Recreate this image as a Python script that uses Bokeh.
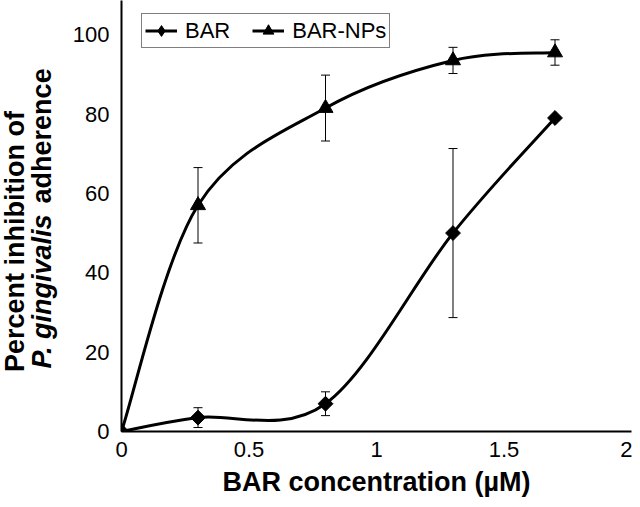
import numpy as np
from bokeh.plotting import figure
from bokeh.layouts import row
from bokeh.models import (ColumnDataSource, Whisker, TeeHead, Legend, LegendItem,
                          FixedTicker, Range1d)
from bokeh.core.properties import value
from bokeh.embed import file_html
from bokeh.resources import INLINE

# ---- data ----
conc = [0, 0.3, 0.8, 1.3, 1.7]
bar_vals = [0, 3.5, 7.0, 50.0, 79.0]
bar_err = [0, 2.5, 3.0, 21.3, 0]
np_vals = [0, 57.0, 81.5, 93.5, 95.5]
np_err = [0, 9.5, 8.3, 3.3, 3.2]
x_ticks = [0, 0.5, 1, 1.5, 2]
x_tick_labels = ["0", "0.5", "1", "1.5", "2"]
y_ticks = [0, 20, 40, 60, 80, 100]
series_names = ["BAR", "BAR-NPs"]
x_title = "BAR concentration (µM)"
y_title_1 = "Percent inhibition of"
y_title_2a = "P. gingivalis"
y_title_2b = "adherence"

FONT = "Liberation Sans"
H = 499
LAB_W = 68
BOTTOM = 68          # space below the plotting frame
FRAME_H = H - BOTTOM


def bezier_source(xs, ys):
    P = np.column_stack([xs, ys]).astype(float)
    prev = np.vstack([P[:1], P[:-1]])
    nxt = np.vstack([P[1:], P[-1:]])
    tan = (nxt - prev) / 6.0
    c0 = P[:-1] + tan[:-1]
    c1 = P[1:] - tan[1:]
    return ColumnDataSource(dict(x0=P[:-1, 0], y0=P[:-1, 1], x1=P[1:, 0], y1=P[1:, 1],
                                 cx0=c0[:, 0], cy0=c0[:, 1], cx1=c1[:, 0], cy1=c1[:, 1]))


# ---------- main plot ----------
p = figure(width=632 - LAB_W, height=H, output_backend="svg", toolbar_location=None,
           x_range=Range1d(0, 2), y_range=Range1d(0, 108.6),
           min_border_left=121 - LAB_W, min_border_right=1, min_border_top=0,
           min_border_bottom=BOTTOM)
p.outline_line_color = None
p.xgrid.visible = False
p.ygrid.visible = False

for ax in (p.xaxis[0], p.yaxis[0]):
    ax.axis_line_width = 2
    ax.axis_line_color = "black"
    ax.major_tick_line_color = None
    ax.minor_tick_line_color = None
    ax.major_tick_in = 0
    ax.major_tick_out = 0
    ax.major_label_text_font = FONT
    ax.major_label_text_font_size = "22px"
    ax.major_label_text_color = "black"
    ax.major_label_standoff = 12
p.xaxis.major_label_standoff = 10

p.xaxis.ticker = FixedTicker(ticks=x_ticks)
p.xaxis.major_label_overrides = {t: l for t, l in zip(x_ticks, x_tick_labels)}
p.yaxis.ticker = FixedTicker(ticks=y_ticks)

p.xaxis.axis_label = x_title
p.xaxis.axis_label_text_font = FONT
p.xaxis.axis_label_text_font_style = "bold"
p.xaxis.axis_label_text_font_size = "27px"
p.xaxis.axis_label_text_color = "black"
p.xaxis.axis_label_standoff = 7

# error bars
for vals, errs in ((bar_vals, bar_err), (np_vals, np_err)):
    v = np.array(vals, dtype=float)
    e = np.array(errs, dtype=float)
    src = ColumnDataSource(dict(x=conc, upper=v + e, lower=v - e))
    w = Whisker(source=src, base="x", upper="upper", lower="lower",
                line_color="black", line_width=1,
                upper_head=TeeHead(size=9, line_color="black", line_width=1),
                lower_head=TeeHead(size=9, line_color="black", line_width=1))
    p.add_layout(w)

# smoothed curves
bar_curve = p.bezier(x0="x0", y0="y0", x1="x1", y1="y1", cx0="cx0", cy0="cy0",
                     cx1="cx1", cy1="cy1", source=bezier_source(conc, bar_vals),
                     line_color="black", line_width=3)
np_curve = p.bezier(x0="x0", y0="y0", x1="x1", y1="y1", cx0="cx0", cy0="cy0",
                    cx1="cx1", cy1="cy1", source=bezier_source(conc, np_vals),
                    line_color="black", line_width=3)

# diamond (hidden under the rotated squares) used for the BAR legend symbol
bar_leg = p.scatter(conc, bar_vals, marker="diamond", size=11, color="black")
bar_pts = p.scatter(conc, bar_vals, marker="square", size=10.5, angle=np.pi / 4,
                    color="black")
np_pts = p.scatter(conc, np_vals, marker="triangle", size=15, color="black")

legend = Legend(items=[LegendItem(label=series_names[0], renderers=[bar_curve, bar_leg]),
                       LegendItem(label=series_names[1], renderers=[np_curve, np_pts])],
                location=(20, FRAME_H - 48), orientation="horizontal",
                label_text_font=FONT, label_text_font_size="22px",
                label_text_color="black",
                glyph_width=32, glyph_height=27, label_standoff=8, spacing=22,
                padding=3, margin=0, border_line_color="black", border_line_width=1,
                background_fill_alpha=1.0)
p.add_layout(legend)

# ---------- y-axis title panel (frame aligned with the main plot) ----------
lab = figure(width=LAB_W, height=H, output_backend="svg", toolbar_location=None,
             x_range=Range1d(0, LAB_W), y_range=Range1d(0, FRAME_H),
             x_axis_location=None, y_axis_location=None,
             min_border_left=0, min_border_right=0, min_border_top=0,
             min_border_bottom=BOTTOM)
lab.outline_line_color = None
lab.xgrid.visible = False
lab.ygrid.visible = False

fs = 27
adv_2a = 5.836 + 0.278  # em widths of "P. gingivalis " (Arial-metric bold)
y2_start = FRAME_H - 368
lab.text(x=[14], y=[FRAME_H - 241], text=[y_title_1], angle=np.pi / 2,
         text_font=value(FONT), text_font_style="bold", text_font_size="27px",
         text_align="center", text_baseline="alphabetic", text_color="black")
lab.text(x=[41], y=[y2_start], text=[y_title_2a], angle=np.pi / 2,
         text_font=value(FONT), text_font_style="bold italic", text_font_size="27px",
         text_align="left", text_baseline="alphabetic", text_color="black")
lab.text(x=[41], y=[y2_start + adv_2a * fs], text=[y_title_2b], angle=np.pi / 2,
         text_font=value(FONT), text_font_style="bold", text_font_size="27px",
         text_align="left", text_baseline="alphabetic", text_color="black")

layout = row(lab, p)
open("out.html", "w").write(file_html(layout, INLINE))
